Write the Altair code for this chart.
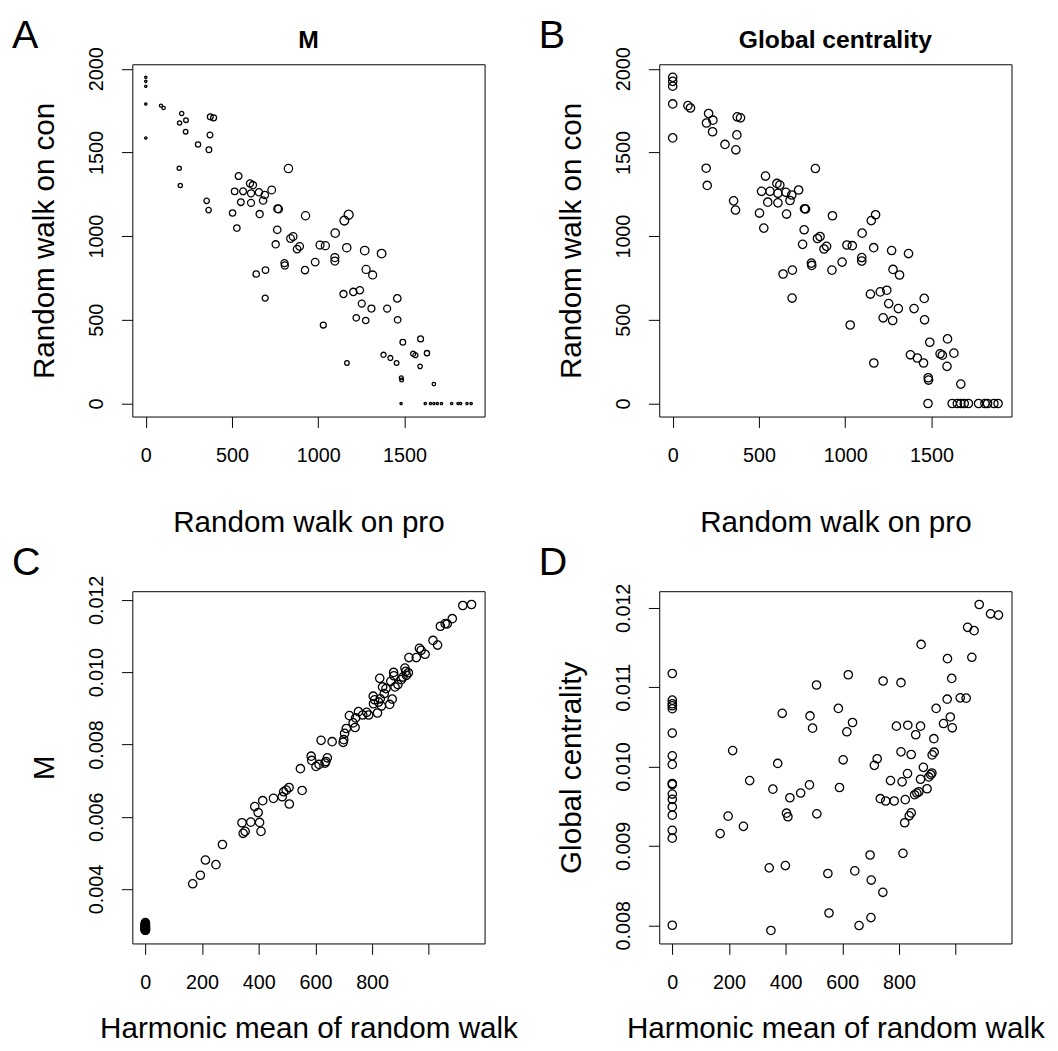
import altair as alt
import pandas as pd

FONT = "Liberation Sans"

# ---- Panels A & B: random walk on pro vs con ----
pro = [0, 0, 0, 0, 0, 88, 103, 208, 233, 196, 231, 303, 374, 393, 372, 366, 194, 200, 353, 364,
       827, 538, 604, 621, 515, 564, 610, 656, 690, 730, 551, 610, 680, 503, 660, 528,
       764, 770, 926, 1176, 1151, 762, 1098, 839, 854, 753, 892, 877, 1010, 1041, 1165,
       1096, 1096, 1269, 1367, 804, 806, 982, 923, 640, 694, 1277, 1315, 692, 1146, 1203, 1241,
       1252, 1308, 1220, 1275, 1458, 1399, 1460, 1029, 1490, 1593, 1378, 1418, 1454, 1166,
       1550, 1563, 1630, 1590, 1481, 1483, 1670,
       1480, 1620, 1650, 1670, 1690, 1714, 1773, 1810, 1825, 1862, 1886]
con = [1949, 1925, 1896, 1790, 1587, 1780, 1766, 1733, 1693, 1676, 1624, 1548, 1713, 1707, 1605, 1516, 1406, 1303, 1211, 1156,
       1404, 1359, 1315, 1305, 1268, 1268, 1256, 1262, 1246, 1276, 1203, 1199, 1213, 1138, 1132, 1048,
       1164, 1162, 1122, 1128, 1093, 1038, 1018, 986, 998, 951, 939, 923, 947, 943, 931,
       872, 851, 914, 896, 839, 825, 845, 797, 774, 797, 801, 768, 630, 654, 667, 677,
       597, 567, 512, 496, 628, 567, 500, 469, 366, 386, 291, 272, 242, 242,
       297, 289, 301, 222, 154, 140, 116,
       0, 0, 0, 0, 0, 0, 0, 0, 0, 0, 0]
m_a = [0.0030, 0.0030, 0.0030, 0.0030, 0.0030, 0.0042, 0.0044, 0.0058, 0.0061, 0.0056, 0.0060, 0.0069,
       0.0077, 0.0079, 0.0076, 0.0075, 0.0056, 0.0056, 0.0072, 0.0072,
       0.0110, 0.0089, 0.0094, 0.0095, 0.0086, 0.0090, 0.0093, 0.0096, 0.0098, 0.0101,
       0.0088, 0.0092, 0.0097, 0.0083, 0.0094, 0.0084,
       0.0101, 0.0101, 0.0108, 0.0119, 0.0116, 0.0098, 0.0111,
       0.0100, 0.0101, 0.0095, 0.0100, 0.0099, 0.0105, 0.0106, 0.0110,
       0.0105, 0.0104, 0.0112, 0.0113, 0.0093, 0.0093, 0.0100, 0.0096, 0.0084, 0.0087,
       0.0106, 0.0105, 0.0080, 0.0094, 0.0096, 0.0097,
       0.0092, 0.0091, 0.0085, 0.0085, 0.0098, 0.0092, 0.0087, 0.0079, 0.0075, 0.0077,
       0.0067, 0.0065, 0.0061, 0.0060, 0.0068, 0.0067, 0.0069, 0.0059, 0.0051, 0.0049, 0.0046,
       0.0030, 0.0030, 0.0030, 0.0030, 0.0030, 0.0030, 0.0030, 0.0030, 0.0030, 0.0030, 0.0030]

# ---- Panel C: harmonic mean vs M ----
hm_c = [0] * 17 + [167, 194, 212, 249, 272, 341, 345, 352, 372, 386, 398, 403, 408, 414, 452,
                   483, 488, 497, 507, 508, 547, 553, 585, 587, 602, 613, 634, 637, 642, 620,
                   659, 698, 700, 703, 709, 720, 733, 740, 742, 752, 767, 781, 788, 804, 805,
                   809, 819, 823, 827, 829, 833, 837, 843, 849, 862, 866, 871, 876, 877, 881,
                   891, 903, 909, 916, 919, 921, 928, 930, 956, 967, 973, 987, 1015, 1031, 1041,
                   1058, 1065, 1083, 1120, 1151]
m_c = [0.00307, 0.00305, 0.00302, 0.00300, 0.00300, 0.00298, 0.00296, 0.00295, 0.00293, 0.00292,
       0.00291, 0.00290, 0.00289, 0.00288, 0.00287, 0.00286, 0.00286,
       0.004146, 0.004383, 0.004803, 0.004675, 0.005232, 0.005834, 0.005542, 0.005596, 0.005852, 0.006281,
       0.006116, 0.005843, 0.005596, 0.006445, 0.006509, 0.006554, 0.006691, 0.006737, 0.006810, 0.006353,
       0.007330, 0.006728, 0.007676, 0.007558, 0.007393, 0.007448, 0.007485, 0.007530, 0.007631, 0.008114,
       0.008077, 0.008059, 0.008132, 0.008306, 0.008442, 0.008798, 0.008597, 0.008470, 0.008734, 0.008908,
       0.008816, 0.008889, 0.008816, 0.009336, 0.009127, 0.009236, 0.008871, 0.009172, 0.009829, 0.009263,
       0.009063, 0.009592, 0.009409, 0.009546, 0.009108, 0.009747, 0.009254, 0.009993, 0.009902, 0.009592,
       0.009656, 0.009793, 0.009865, 0.010112, 0.010021, 0.009911, 0.009984, 0.010404, 0.010404, 0.010659,
       0.010604, 0.010495, 0.010878, 0.010750, 0.011270, 0.011343, 0.011334, 0.011480, 0.011845, 0.011873]

# ---- Panel D: harmonic mean vs global centrality ----
hm_d = [0] * 17 + [169, 197, 213, 251, 273, 342, 348, 355, 372, 388, 399, 403, 408, 415, 453,
                   484, 486, 495, 509, 510, 549, 553, 586, 590, 603, 616, 621, 636, 644, 659,
                   698, 701, 702, 713, 723, 734, 743, 744, 753, 770, 783, 791, 807, 807, 811,
                   814, 820, 822, 830, 831, 836, 843, 843, 855, 859, 863, 870, 876, 876, 878,
                   886, 899, 905, 912, 916, 917, 923, 924, 931, 957, 970, 971, 981, 986, 988,
                   1016, 1037, 1042, 1057, 1065, 1083, 1123, 1151]
g_d = [0.011173, 0.010837, 0.010791, 0.010766, 0.010729, 0.010422, 0.010135, 0.010027, 0.009786,
       0.009774, 0.009653, 0.009587, 0.009491, 0.009387, 0.009196, 0.009097, 0.008000,
       0.009155, 0.009375, 0.010201, 0.009246, 0.009823, 0.008723, 0.007934, 0.009715, 0.010039, 0.010671,
       0.008752, 0.009412, 0.009367, 0.009607, 0.009666, 0.009769, 0.010638, 0.010484, 0.011028, 0.009404,
       0.008652, 0.008154, 0.010733, 0.009736, 0.010085, 0.010438, 0.011157, 0.010555, 0.008685, 0.007996,
       0.008885, 0.008096, 0.008569, 0.010015, 0.010098, 0.009595, 0.008415, 0.011078, 0.009566, 0.009823,
       0.009566, 0.010509, 0.011057, 0.010185, 0.009807, 0.008906, 0.009292, 0.009583, 0.009911, 0.010521,
       0.009379, 0.009416, 0.010152, 0.009645, 0.010401, 0.009666, 0.009682, 0.009840, 0.010509, 0.011539,
       0.009990, 0.009720, 0.009869, 0.009898, 0.009919, 0.010147, 0.010351, 0.010181, 0.010733, 0.010542,
       0.010849, 0.011360, 0.010625, 0.011111, 0.010488, 0.010866, 0.010862, 0.011755, 0.011377, 0.011713,
       0.012042, 0.011925, 0.011909]

letters = ["A", "B", "C", "D"]
titles = ["M", "Global centrality"]
ticks_rw = [0, 500, 1000, 1500]
ticks_rw_y = [0, 500, 1000, 1500, 2000]
ticks_hm = [0, 200, 400, 600, 800, 1000]
ticks_m = [0.004, 0.006, 0.008, 0.010, 0.012]
ticks_g = [0.008, 0.009, 0.010, 0.011, 0.012]

W = 357
H = 357
PT = 72      # circle size for uniform panels
SW = 1.3     # circle stroke width

df_ab = pd.DataFrame({"pro": pro, "con": con, "M": m_a})
df_c = pd.DataFrame({"hm": hm_c, "M": m_c})
df_d = pd.DataFrame({"hm": hm_d, "G": g_d})


def xaxis(title, values, fmt, title_y, label_expr=None):
    kw = dict(values=values, format=fmt, title=title, titleX=W / 2, titleY=title_y,
              titleAlign="center", titleBaseline="alphabetic", titleAngle=0,
              labelAngle=0, labelAlign="center", labelBaseline="top", labelPadding=19)
    if label_expr:
        kw["labelExpr"] = label_expr
    return alt.Axis(**kw)


def yaxis(title, values, fmt, title_x):
    return alt.Axis(values=values, format=fmt, title=title, titleX=title_x, titleY=H / 2,
                    titleAlign="center", titleBaseline="alphabetic", titleAngle=270,
                    labelAngle=270, labelAlign="center", labelBaseline="alphabetic",
                    labelPadding=19)


def text_layer(t, x, y, size, weight, align):
    return alt.Chart(pd.DataFrame({"t": [t]})).mark_text(
        align=align, baseline="alphabetic", fontSize=size, fontWeight=weight,
        font=FONT, color="black"
    ).encode(x=alt.value(x), y=alt.value(y), text="t:N")


def pts(df, size=None):
    kw = dict(shape="circle", filled=False, color="black", strokeWidth=SW, opacity=1)
    if size is not None:
        kw["size"] = size
    return alt.Chart(df).mark_point(**kw)


rw_x = alt.Scale(domain=[-78, 1964], nice=False, zero=False)
rw_y = alt.Scale(domain=[-78, 2027], nice=False, zero=False)
hm_x = alt.Scale(domain=[-46, 1197], nice=False, zero=False)

LY = -16
TS = 25

pa = alt.layer(
    pts(df_ab).encode(
        x=alt.X("pro:Q", scale=rw_x, axis=xaxis("Random walk on pro", ticks_rw, "d", 117)),
        y=alt.Y("con:Q", scale=rw_y, axis=yaxis("Random walk on con", ticks_rw_y, "d", -80)),
        size=alt.Size("M:Q", scale=alt.Scale(type="pow", exponent=2, domain=[0, 0.012], range=[0, 85]),
                      legend=None),
    ),
    text_layer(letters[0], -122, LY, 40, "normal", "left"),
    text_layer(titles[0], W / 2, -16, TS, "bold", "center"),
).properties(width=W, height=H)

pb = alt.layer(
    pts(df_ab, PT).encode(
        x=alt.X("pro:Q", scale=rw_x, axis=xaxis("Random walk on pro", ticks_rw, "d", 117)),
        y=alt.Y("con:Q", scale=rw_y, axis=yaxis("Random walk on con", ticks_rw_y, "d", -80)),
    ),
    text_layer(letters[1], -122, LY, 40, "normal", "left"),
    text_layer(titles[1], W / 2, -16, TS, "bold", "center"),
).properties(width=W, height=H)

pc = alt.layer(
    pts(df_c, PT).encode(
        x=alt.X("hm:Q", scale=hm_x,
                axis=xaxis("Harmonic mean of random walk", ticks_hm, "d", 95,
                           "datum.value >= 1000 ? '' : datum.label")),
        y=alt.Y("M:Q", scale=alt.Scale(domain=[0.002495, 0.01224], nice=False, zero=False),
                axis=yaxis("M", ticks_m, ".3f", -80)),
    ),
    text_layer(letters[2], -122, LY, 40, "normal", "left"),
).properties(width=W, height=H)

pdd = alt.layer(
    pts(df_d, PT).encode(
        x=alt.X("hm:Q", scale=hm_x,
                axis=xaxis("Harmonic mean of random walk", ticks_hm, "d", 95,
                           "datum.value >= 1000 ? '' : datum.label")),
        y=alt.Y("G:Q", scale=alt.Scale(domain=[0.00777, 0.01221], nice=False, zero=False),
                axis=yaxis("Global centrality", ticks_g, ".3f", -80)),
    ),
    text_layer(letters[3], -122, LY, 40, "normal", "left"),
).properties(width=W, height=H)

chart = alt.concat(pa, pb, pc, pdd, columns=2, spacing=177, bounds="flush").properties(
    padding={"left": 3, "top": 1, "right": 5, "bottom": 5},
    background="white",
).configure_view(
    stroke="black", strokeWidth=1
).configure_axis(
    labelFont=FONT, labelFontSize=20, labelColor="black",
    titleFont=FONT, titleFontSize=30, titleFontWeight="normal", titleColor="black",
    tickColor="black", tickSize=11, tickWidth=1, domain=False, grid=False,
    labelOverlap=False, labelFlush=False
)

chart.save("out.html", embed_options={"renderer": "svg", "actions": False})
